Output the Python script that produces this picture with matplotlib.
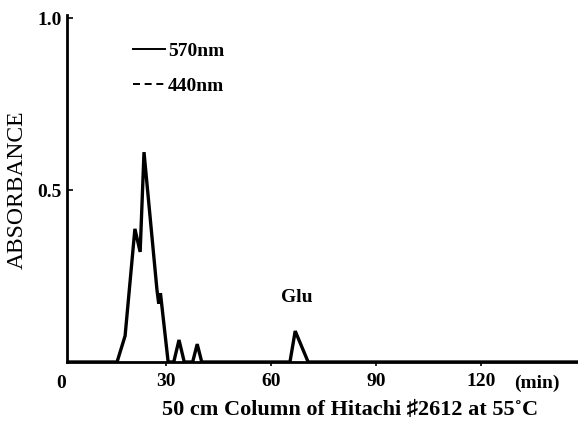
#!/usr/bin/env python3
"""
氨基酸分析色谱图 (570nm / 440nm)
"""

import matplotlib
matplotlib.use("Agg")
import matplotlib.pyplot as plt

# 570nm 曲线 (时间 min, 吸光度)
time_570 = [1.7, 16.0, 18.3, 21.1, 22.6, 23.7, 27.4, 27.9, 28.4, 30.6,
            32.2, 33.7, 35.2, 37.6, 38.9, 40.2, 65.4, 66.9, 70.6, 147.7]
abs_570 = [0.0, 0.0, 0.076, 0.387, 0.32, 0.61, 0.21, 0.17, 0.20, 0.0,
           0.0, 0.064, 0.0, 0.0, 0.052, 0.0, 0.0, 0.09, 0.0, 0.0]

x_ticks = [30, 60, 90, 120]
x_tick_labels = ["30", "60", "90", "120"]
y_ticks = [0.5, 1.0]
y_tick_labels = ["0.5", "1.0"]

W, H = 578, 427
FONT = "Liberation Serif"
FS = 14


def main():
    fig = plt.figure(figsize=(W / 100, H / 100), dpi=100)
    fig.patch.set_facecolor("white")

    # 坐标轴位置 (像素)
    left, right, top, bottom = 67, 578, 19, 363
    ax = fig.add_axes([left / W, 1 - bottom / H, (right - left) / W, (bottom - top) / H])

    ax.plot(time_570, abs_570, color="black", lw=2.4, solid_joinstyle="miter")

    ax.set_xlim(1.7, 147.7)
    ax.set_ylim(0, 1.0)

    for s in ["top", "right"]:
        ax.spines[s].set_visible(False)
    ax.spines["left"].set_linewidth(2.0)
    ax.spines["bottom"].set_linewidth(2.0)
    ax.spines["left"].set_bounds(0, 1.01)

    ax.set_xticks(x_ticks)
    ax.set_xticklabels(x_tick_labels, fontfamily=FONT, fontweight="bold", fontsize=FS)
    ax.set_yticks(y_ticks)
    ax.set_yticklabels(y_tick_labels, fontfamily=FONT, fontweight="bold", fontsize=FS)
    ax.tick_params(axis="x", direction="out", length=3, width=1.2, pad=4)
    ax.tick_params(axis="y", direction="in", length=4, width=1.2, pad=4)

    # "0" 与 "(min)"
    ax.text(0, -0.035, "0", ha="center", va="top",
            fontfamily=FONT, fontweight="bold", fontsize=FS, clip_on=False)
    ax.text(129.5, -0.035, "(min)", ha="left", va="top",
            fontfamily=FONT, fontweight="bold", fontsize=FS, clip_on=False)

    fig.text(17 / W, 1 - 190 / H, "ABSORBANCE", rotation=90, ha="center", va="center",
             fontfamily=FONT, fontsize=17)
    fig.text(350 / W, 1 - 410 / H, "50 cm Column of Hitachi \u266f2612 at 55\u02daC",
             ha="center", va="center", fontfamily=[FONT, "DejaVu Sans"],
             fontweight="bold", fontsize=16)

    # 峰标注
    ax.text(67.5, 0.165, "Glu", ha="center", va="bottom",
            fontfamily=FONT, fontweight="bold", fontsize=FS)

    # 图例
    ax.plot([20.6, 29.7], [0.91, 0.91], color="black", lw=1.4, clip_on=False)
    ax.text(30.6, 0.905, "570nm", ha="left", va="center",
            fontfamily=FONT, fontweight="bold", fontsize=FS)
    ax.plot([20.6, 29.7], [0.808, 0.808], color="black", lw=1.4,
            ls=(0, (3.6, 2.4)), dash_capstyle="butt")
    ax.text(30.6, 0.803, "440nm", ha="left", va="center",
            fontfamily=FONT, fontweight="bold", fontsize=FS)

    fig.savefig("out.png", dpi=100, facecolor="white")
    plt.close(fig)


if __name__ == "__main__":
    main()
